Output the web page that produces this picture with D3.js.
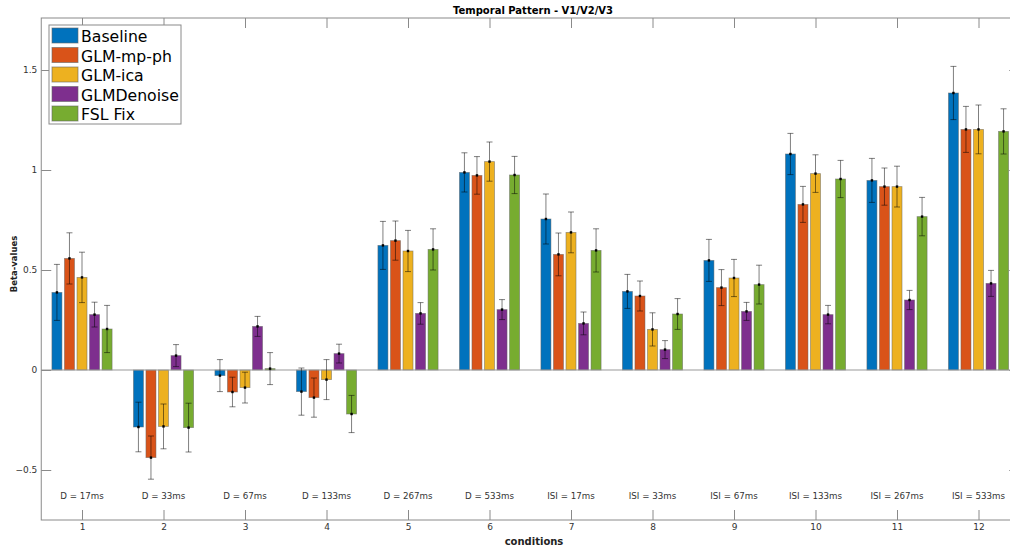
<!DOCTYPE html>
<html>
<head>
<meta charset="utf-8">
<script src="https://cdn.jsdelivr.net/npm/d3@7"></script>
<style>
body { margin: 0; background: #fff; overflow: hidden; }
text { font-family: "DejaVu Sans", sans-serif; }
</style>
</head>
<body>
<script>
//chart data
var conditions = [1, 2, 3, 4, 5, 6, 7, 8, 9, 10, 11, 12];
var conditionLabels = ["D = 17ms", "D = 33ms", "D = 67ms", "D = 133ms", "D = 267ms", "D = 533ms",
    "ISI = 17ms", "ISI = 33ms", "ISI = 67ms", "ISI = 133ms", "ISI = 267ms", "ISI = 533ms"];
var seriesNames = ["Baseline", "GLM-mp-ph", "GLM-ica", "GLMDenoise", "FSL Fix"];
var seriesColors = ["#0072BD", "#D95319", "#EDB120", "#7E2F8E", "#77AC30"];

var baseline   = [0.388, -0.285, -0.028, -0.108, 0.623, 0.988, 0.755, 0.393, 0.548, 1.080, 0.948, 1.385];
var glmMpPh    = [0.558, -0.438, -0.110, -0.138, 0.647, 0.973, 0.578, 0.370, 0.412, 0.828, 0.917, 1.203];
var glmIca     = [0.463, -0.282, -0.088, -0.048, 0.595, 1.042, 0.688, 0.203, 0.460, 0.982, 0.917, 1.203];
var glmDenoise = [0.277, 0.072, 0.218, 0.082, 0.283, 0.302, 0.233, 0.102, 0.293, 0.277, 0.350, 0.433];
var fslFix     = [0.205, -0.288, 0.007, -0.220, 0.603, 0.975, 0.598, 0.280, 0.427, 0.955, 0.767, 1.193];

var baselineErr   = [0.140, 0.124, 0.080, 0.118, 0.120, 0.098, 0.125, 0.085, 0.105, 0.103, 0.110, 0.133];
var glmMpPhErr    = [0.128, 0.108, 0.074, 0.098, 0.098, 0.094, 0.107, 0.075, 0.090, 0.090, 0.093, 0.115];
var glmIcaErr     = [0.126, 0.112, 0.077, 0.100, 0.103, 0.098, 0.102, 0.083, 0.093, 0.094, 0.102, 0.122];
var glmDenoiseErr = [0.062, 0.055, 0.050, 0.047, 0.054, 0.050, 0.057, 0.045, 0.045, 0.046, 0.048, 0.065];
var fslFixErr     = [0.118, 0.122, 0.080, 0.093, 0.103, 0.093, 0.108, 0.077, 0.097, 0.093, 0.096, 0.113];

var yTicks = [-0.5, 0, 0.5, 1, 1.5];

var seriesValues = [baseline, glmMpPh, glmIca, glmDenoise, fslFix];
var seriesErrors = [baselineErr, glmMpPhErr, glmIcaErr, glmDenoiseErr, fslFixErr];

var width = 1010, height = 548;
var plotLeft = 41.25, plotRight = 1019.25, plotTop = 18, plotBottom = 520;

var svg = d3.select("body").append("svg")
    .attr("width", width)
    .attr("height", height);

var x = d3.scaleLinear().domain([0.5, 12.5]).range([plotLeft, plotRight]);
var y = d3.scaleLinear().domain([-0.75, 1.76]).range([plotBottom, plotTop]);

//MATLAB style grouped bar offsets
var groupWidth = 0.769;
var inner = d3.scaleBand()
    .domain(seriesNames)
    .range([-groupWidth / 2, groupWidth / 2])
    .paddingInner(0.2)
    .paddingOuter(0.1);

var axisColor = "#8a8a8a";

var plot = svg.append("g");

//bars
seriesNames.forEach(function(name, si){
    var g = plot.append("g").attr("class", "series");
    var rows = conditions.map(function(c, i){
        return {c: c, v: seriesValues[si][i], e: seriesErrors[si][i]};
    });
    g.selectAll("rect")
        .data(rows)
        .enter()
        .append("rect")
        .attr("x", function(d){ return x(d.c + inner(name)); })
        .attr("width", function(d){ return x(d.c + inner(name) + inner.bandwidth()) - x(d.c + inner(name)); })
        .attr("y", function(d){ return y(Math.max(0, d.v)); })
        .attr("height", function(d){ return Math.abs(y(d.v) - y(0)); })
        .attr("fill", seriesColors[si])
        .attr("stroke", "#666")
        .attr("stroke-opacity", 0.6)
        .attr("stroke-width", 0.8);
});

//zero baseline
plot.append("line")
    .attr("x1", plotLeft).attr("x2", plotRight)
    .attr("y1", y(0)).attr("y2", y(0))
    .attr("stroke", "#999").attr("stroke-width", 1);

//error bars
seriesNames.forEach(function(name, si){
    var g = plot.append("g").attr("class", "errors");
    conditions.forEach(function(c, i){
        var cx = x(c + inner(name) + inner.bandwidth() / 2);
        var v = seriesValues[si][i], e = seriesErrors[si][i];
        var eb = g.append("g")
            .attr("stroke", "#000")
            .attr("stroke-opacity", 0.5)
            .attr("stroke-width", 1);
        eb.append("line").attr("x1", cx).attr("x2", cx).attr("y1", y(v - e)).attr("y2", y(v + e));
        eb.append("line").attr("x1", cx - 3).attr("x2", cx + 3).attr("y1", y(v - e)).attr("y2", y(v - e));
        eb.append("line").attr("x1", cx - 3).attr("x2", cx + 3).attr("y1", y(v + e)).attr("y2", y(v + e));
        g.append("rect")
            .attr("x", cx - 1.2).attr("y", y(v) - 1.2)
            .attr("width", 2.4).attr("height", 2.4)
            .attr("fill", "#000");
    });
});

//condition labels inside the axes
plot.selectAll(".condLabel")
    .data(conditions)
    .enter()
    .append("text")
    .attr("class", "condLabel")
    .attr("x", function(d){ return x(d); })
    .attr("y", 499)
    .attr("text-anchor", "middle")
    .attr("font-size", "8.7px")
    .attr("fill", "#333")
    .text(function(d, i){ return conditionLabels[i]; });

//axes box
var axes = svg.append("g");
axes.append("rect")
    .attr("x", plotLeft).attr("y", plotTop)
    .attr("width", plotRight - plotLeft).attr("height", plotBottom - plotTop)
    .attr("fill", "none").attr("stroke", axisColor).attr("stroke-width", 1);

var xAxis = d3.axisBottom(x).tickValues(conditions).tickSize(-10).tickPadding(4);
axes.append("g")
    .attr("transform", "translate(0," + plotBottom + ")")
    .call(xAxis)
    .call(function(g){
        g.select(".domain").remove();
        g.selectAll("line").attr("stroke", axisColor);
        g.selectAll("text").attr("fill", "#333").attr("font-size", "9px").attr("font-family", "DejaVu Sans");
    });

var xAxisTop = d3.axisTop(x).tickValues(conditions).tickSize(-10).tickFormat("");
axes.append("g")
    .attr("transform", "translate(0," + plotTop + ")")
    .call(xAxisTop)
    .call(function(g){
        g.select(".domain").remove();
        g.selectAll("line").attr("stroke", axisColor);
    });

var yAxis = d3.axisLeft(y).tickValues(yTicks).tickSize(-10).tickPadding(4).tickFormat(d3.format("~g"));
axes.append("g")
    .attr("transform", "translate(" + plotLeft + ",0)")
    .call(yAxis)
    .call(function(g){
        g.select(".domain").remove();
        g.selectAll("line").attr("stroke", axisColor);
        g.selectAll("text").attr("fill", "#333").attr("font-size", "9px").attr("font-family", "DejaVu Sans");
    });

var yAxisRight = d3.axisRight(y).tickValues(yTicks).tickSize(-10).tickFormat("");
axes.append("g")
    .attr("transform", "translate(" + plotRight + ",0)")
    .call(yAxisRight)
    .call(function(g){
        g.select(".domain").remove();
        g.selectAll("line").attr("stroke", axisColor);
    });

//title and axis labels
svg.append("text")
    .attr("x", 533)
    .attr("y", 14)
    .attr("text-anchor", "middle")
    .attr("font-size", "10px")
    .attr("font-weight", "bold")
    .attr("fill", "#000")
    .text("Temporal Pattern - V1/V2/V3");

svg.append("text")
    .attr("x", 534)
    .attr("y", 545)
    .attr("text-anchor", "middle")
    .attr("font-size", "10px")
    .attr("font-weight", "bold")
    .attr("fill", "#222")
    .text("conditions");

svg.append("text")
    .attr("transform", "translate(17," + 264 + ") rotate(-90)")
    .attr("text-anchor", "middle")
    .attr("font-size", "8.5px")
    .attr("font-weight", "bold")
    .attr("fill", "#222")
    .text("Beta-values");

//legend
var legend = svg.append("g").attr("transform", "translate(49,25)");
legend.append("rect")
    .attr("x", 0).attr("y", 0)
    .attr("width", 132).attr("height", 99)
    .attr("fill", "#fff")
    .attr("stroke", axisColor).attr("stroke-width", 1);

var items = legend.selectAll(".item")
    .data(seriesNames)
    .enter()
    .append("g")
    .attr("class", "item")
    .attr("transform", function(d, i){ return "translate(0," + (3 + i * 19.5) + ")"; });

items.append("rect")
    .attr("x", 3).attr("y", 0)
    .attr("width", 26).attr("height", 15)
    .attr("fill", function(d, i){ return seriesColors[i]; })
    .attr("stroke", "#666").attr("stroke-opacity", 0.6);

items.append("text")
    .attr("x", 32)
    .attr("y", 14)
    .attr("font-size", "15.7px")
    .attr("fill", "#000")
    .text(function(d){ return d; });
</script>
</body>
</html>
